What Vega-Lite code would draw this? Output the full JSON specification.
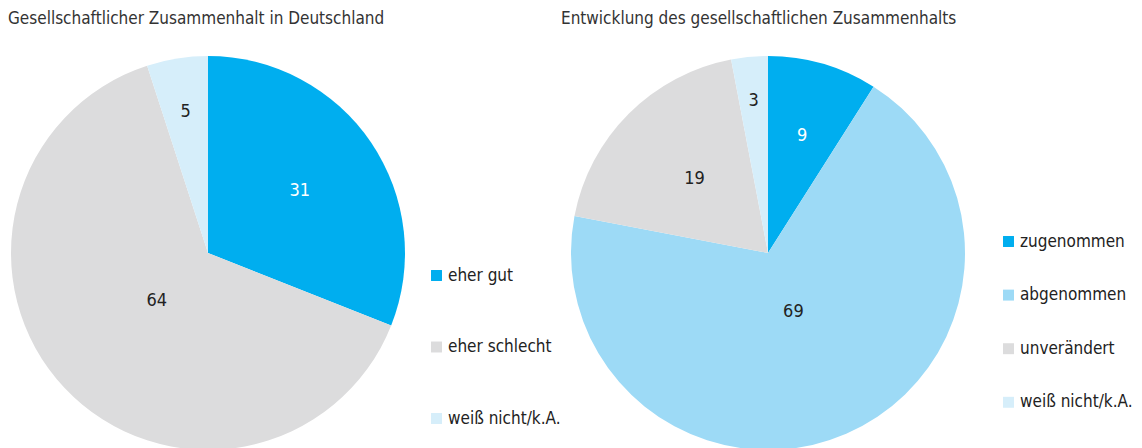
{
  "$schema": "https://vega.github.io/schema/vega-lite/v6.json",
  "padding": {"left": 8, "top": 10, "right": 0, "bottom": 0},
  "background": "white",
  "datasets": {
    "deutschland": [
      {"Nr": 1, "Kategorie": "eher gut", "Anteil": 31},
      {"Nr": 2, "Kategorie": "eher schlecht", "Anteil": 64},
      {"Nr": 3, "Kategorie": "weiß nicht/k.A.", "Anteil": 5}
    ],
    "entwicklung": [
      {"Nr": 1, "Kategorie": "zugenommen", "Anteil": 9},
      {"Nr": 2, "Kategorie": "abgenommen", "Anteil": 69},
      {"Nr": 3, "Kategorie": "unverändert", "Anteil": 19},
      {"Nr": 4, "Kategorie": "weiß nicht/k.A.", "Anteil": 3}
    ]
  },
  "config": {
    "font": "DejaVu Sans Condensed",
    "view": {"stroke": null},
    "title": {"fontSize": 17, "fontWeight": "normal", "color": "#333333", "anchor": "start", "frame": "group", "offset": 28},
    "legend": {"labelFontSize": 17, "labelColor": "#222222", "symbolType": "square", "symbolSize": 120, "symbolStrokeWidth": 0, "labelOffset": 3, "title": null}
  },
  "bounds": "flush",
  "spacing": 166,
  "hconcat": [
    {
      "title": {"text": "Gesellschaftlicher Zusammenhalt in Deutschland", "dx": -3},
      "data": {"name": "deutschland"},
      "width": 394,
      "height": 394,
      "encoding": {
        "theta": {"field": "Anteil", "type": "quantitative", "stack": true, "scale": {"domain": [0, 100]}},
        "order": {"field": "Nr", "type": "quantitative", "sort": "ascending"},
        "color": {
          "field": "Kategorie", "type": "nominal",
          "scale": {"domain": ["eher gut", "eher schlecht", "weiß nicht/k.A."], "range": ["#00AEEF", "#DCDCDD", "#D6EEFA"]},
          "legend": {"orient": "none", "legendX": 417, "legendY": 211, "rowPadding": 53.5, "title": null}
        }
      },
      "layer": [
        {"mark": {"type": "arc", "outerRadius": 197}},
        {
          "mark": {"type": "text", "fontSize": 18},
          "encoding": {
            "text": {"field": "Anteil", "type": "quantitative"},
            "radius": {"field": "Anteil", "type": "quantitative", "scale": {"type": "linear", "domain": [3, 9, 19, 31, 69], "range": [153, 122, 104, 111, 64]}},
            "color": {"condition": {"test": "datum.Kategorie === 'eher gut'", "value": "white"}, "value": "#222222"}
          }
        }
      ]
    },
    {
      "title": {"text": "Entwicklung des gesellschaftlichen Zusammenhalts", "dx": -10},
      "data": {"name": "entwicklung"},
      "width": 394,
      "height": 394,
      "encoding": {
        "theta": {"field": "Anteil", "type": "quantitative", "stack": true, "scale": {"domain": [0, 100]}},
        "order": {"field": "Nr", "type": "quantitative", "sort": "ascending"},
        "color": {
          "field": "Kategorie", "type": "nominal",
          "scale": {"domain": ["zugenommen", "abgenommen", "unverändert", "weiß nicht/k.A."], "range": ["#00AEEF", "#9DDAF6", "#DCDCDD", "#D6EEFA"]},
          "legend": {"orient": "none", "legendX": 429, "legendY": 177, "rowPadding": 35.6, "title": null}
        }
      },
      "layer": [
        {"mark": {"type": "arc", "outerRadius": 197}},
        {
          "mark": {"type": "text", "fontSize": 18},
          "encoding": {
            "text": {"field": "Anteil", "type": "quantitative"},
            "radius": {"field": "Anteil", "type": "quantitative", "scale": {"type": "linear", "domain": [3, 9, 19, 31, 69], "range": [153, 122, 104, 111, 64]}},
            "color": {"condition": {"test": "datum.Kategorie === 'zugenommen'", "value": "white"}, "value": "#222222"}
          }
        }
      ]
    }
  ],
  "resolve": {"scale": {"color": "independent", "theta": "independent", "radius": "independent"}}
}
